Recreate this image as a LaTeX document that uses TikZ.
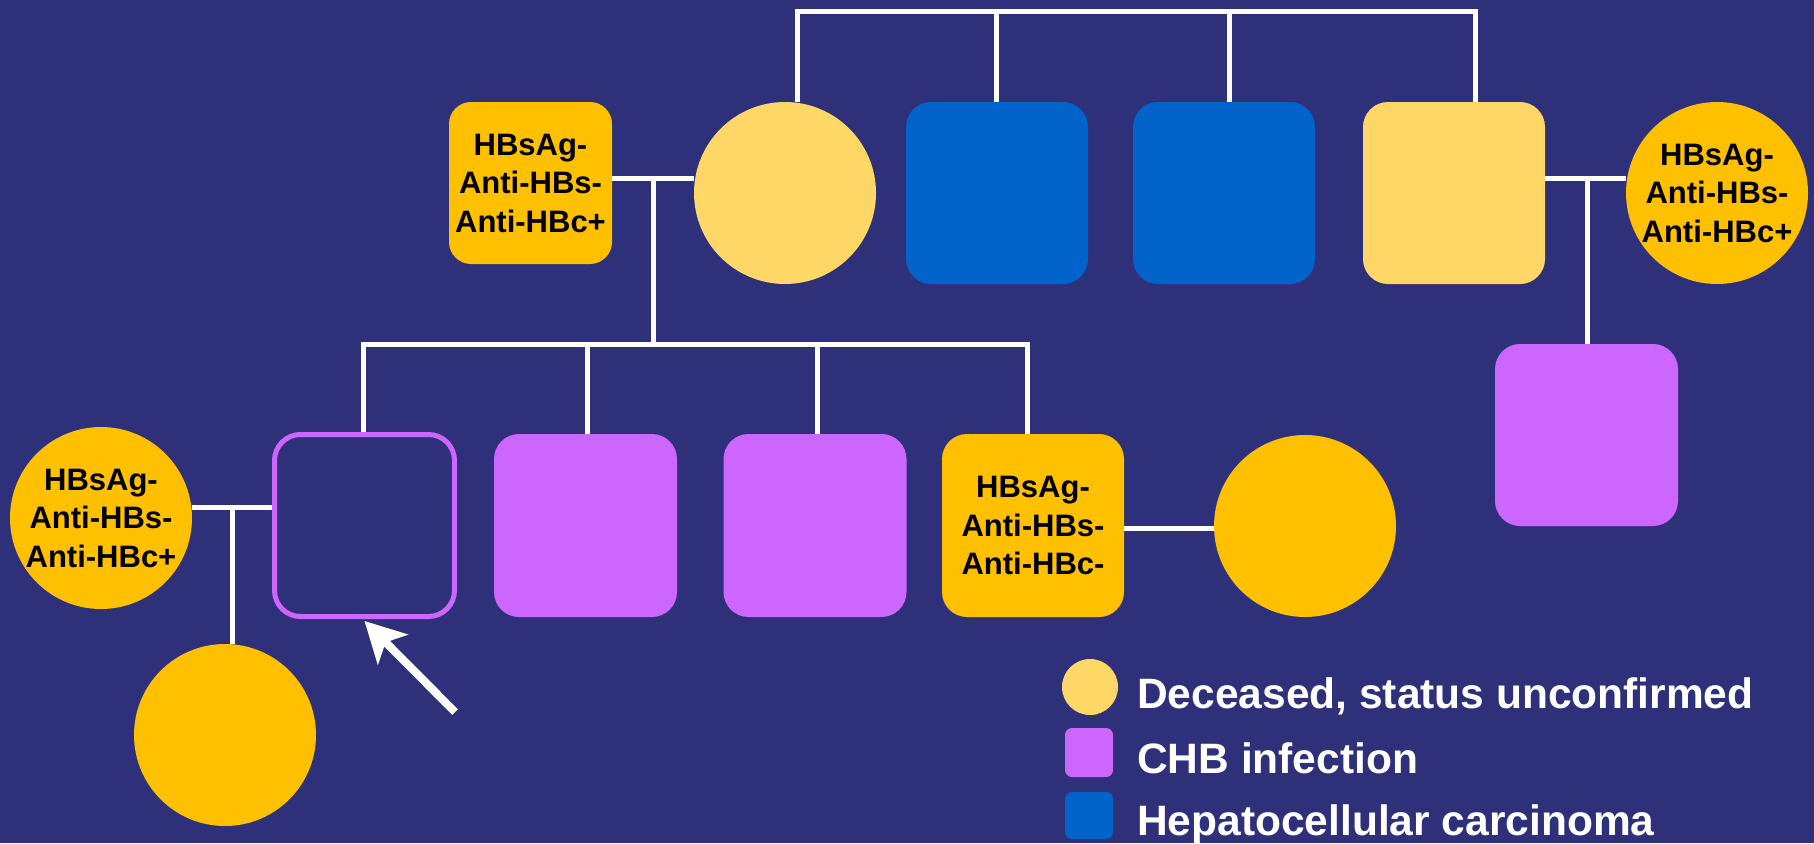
\documentclass[tikz,border=0pt]{standalone}
\usepackage{fontspec}
\setmainfont{Liberation Sans}
\usetikzlibrary{arrows.meta,calc}
\definecolor{bg}{RGB}{46,48,121}
\definecolor{lyel}{RGB}{255,215,102}
\definecolor{oyel}{RGB}{255,192,0}
\definecolor{hblue}{RGB}{2,100,202}
\definecolor{chb}{RGB}{204,102,255}
\tikzset{
  x=1pt,y=-1pt,
  ln/.style={draw=white,line width=5pt},
  sq/.style={rectangle,rounded corners=25pt,minimum width=182pt,minimum height=182pt,inner sep=0pt},
  ci/.style={circle,minimum size=182pt,inner sep=0pt},
  lab/.style={align=center,text=black,font=\fontsize{31}{38.5}\selectfont\bfseries},
  legtext/.style={anchor=base west,text=white,inner sep=0pt,font=\fontsize{42.5}{50}\selectfont\bfseries},
  ptr/.style={draw=white,line width=8pt,-{Stealth[length=40pt,width=42pt,inset=10pt]}}
}
\begin{document}
\begin{tikzpicture}
\fill[bg] (0,0) rectangle (1814,843);
\useasboundingbox (0,0) rectangle (1814,843);

% generation I
\node[sq,fill=oyel,minimum width=163pt,minimum height=162pt,rounded corners=22pt,lab] (hf1) at (530.5,183) {HBsAg-\\Anti-HBs-\\Anti-HBc+};
\node[ci,fill=lyel] (gm) at (785,193) {};
\node[sq,fill=hblue] (b1) at (997,193) {};
\node[sq,fill=hblue] (b2) at (1224,193) {};
\node[sq,fill=lyel] (gu) at (1454,193) {};
\node[ci,fill=oyel,lab] (rc) at (1717,193) {HBsAg-\\Anti-HBs-\\Anti-HBc+};
\node[sq,fill=chb,minimum width=183pt] (ps) at (1586.5,435) {};

% generation II
\node[sq,draw=chb,line width=5pt,minimum width=180pt,minimum height=182pt,rounded corners=26pt] (pro) at (364.5,525.5) {};
\node[sq,fill=chb,minimum width=183pt,minimum height=183pt] (p1) at (585.5,525.5) {};
\node[sq,fill=chb,minimum width=183pt,minimum height=183pt] (p2) at (815,525.5) {};
\node[sq,fill=oyel,minimum height=183pt,lab] (hf2) at (1033,525.5) {HBsAg-\\Anti-HBs-\\Anti-HBc-};
\node[ci,fill=oyel] (wc) at (1305,526) {};
\node[ci,fill=oyel,lab] (lc) at (101,518) {HBsAg-\\Anti-HBs-\\Anti-HBc+};
\node[ci,fill=oyel] (bc) at (225,735) {};

% bus coordinates
\coordinate (t1) at (797,12);
\coordinate (t2) at (996,12);
\coordinate (t3) at (1229,12);
\coordinate (t4) at (1475,12);
\coordinate (m1) at (653,178);
\coordinate (m2) at (1587,178);
\coordinate (m3) at (232,507);
\coordinate (m4) at (1124,528);
\coordinate (s1) at (363,344);
\coordinate (s2) at (587,344);
\coordinate (s3) at (817,344);
\coordinate (s4) at (1027,344);
\coordinate (arrtail) at (455,712);

% sibship of generation I
\draw[ln] (gm.north -| t1) -- (t1) -- (t4) -- (gu.north -| t4);
\draw[ln] (t2) -- (b1.north -| t2);
\draw[ln] (t3) -- (b2.north -| t3);

% couples and descent
\draw[ln] (hf1.east |- m1) -- (gm.west |- m1);
\draw[ln] (m1) -- (m1 |- s1);
\draw[ln] (gu.east |- m2) -- (rc.west |- m2);
\draw[ln] (m2) -- (ps.north -| m2);

% sibship of generation II
\draw[ln] (pro.north -| s1) -- (s1) -- (s4) -- (hf2.north -| s4);
\draw[ln] (s2) -- (p1.north -| s2);
\draw[ln] (s3) -- (p2.north -| s3);

\draw[ln] (lc.east |- m3) -- (pro.west |- m3);
\draw[ln] (m3) -- (bc.north -| m3);
\draw[ln] (hf2.east |- m4) -- (wc.west |- m4);

% proband arrow
\draw[ptr] (arrtail) -- ($(pro.south)+(0,2)$);

% legend
\node[circle,fill=lyel,minimum size=56pt,inner sep=0pt] (lg1) at (1090,687) {};
\node[rectangle,fill=chb,rounded corners=7pt,minimum width=48pt,minimum height=49pt,inner sep=0pt] (lg2) at (1089,752.5) {};
\node[rectangle,fill=hblue,rounded corners=7pt,minimum width=48pt,minimum height=47pt,inner sep=0pt] (lg3) at (1089,815.5) {};
\node[legtext] (lt1) at (1137,708) {Deceased, status unconfirmed};
\node[legtext] (lt2) at (1137,773) {CHB infection};
\node[legtext] (lt3) at (1137,835) {Hepatocellular carcinoma};
\end{tikzpicture}
\end{document}
